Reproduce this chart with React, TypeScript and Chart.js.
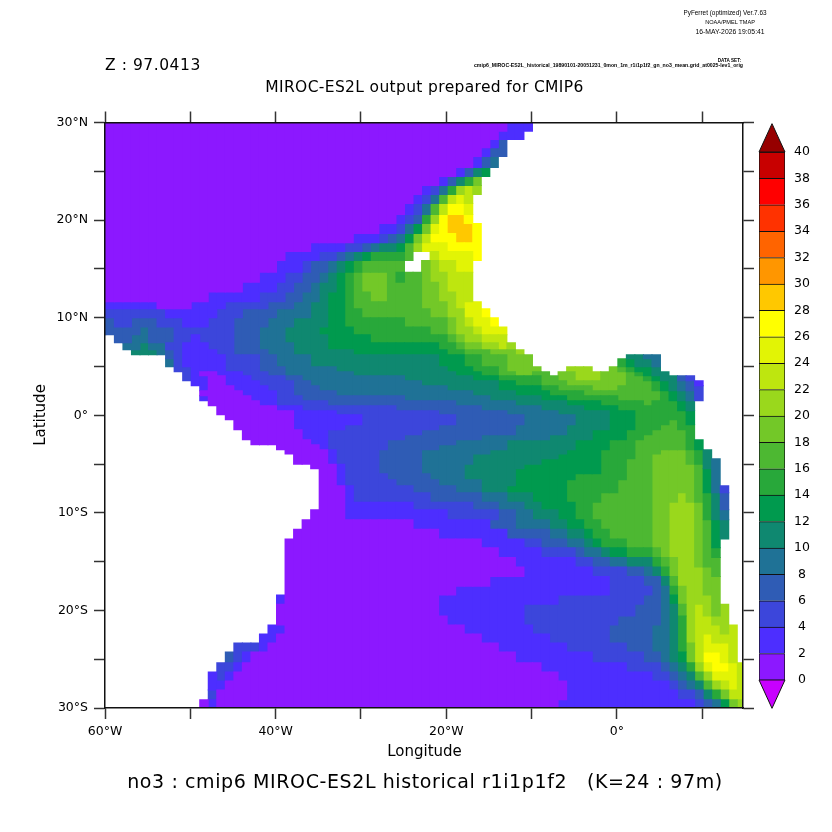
import React, { useEffect, useRef } from "react";
import { Chart, registerables } from "chart.js";

Chart.register(...registerables);

// ---------- data ----------
// Latitude edges of the model rows (north to south); rows get narrow near the equator.
const latEdges = [
  30, 29.11, 28.26, 27.4, 26.51, 25.38, 24.46, 23.54, 22.62, 21.69, 20.56, 19.64, 18.62, 17.69, 16.77, 15.85, 14.65,
  13.62, 12.63, 11.64, 10.92, 10.0,
  9.04, 8.26, 7.44, 6.72, 6.21, 5.79, 4.97, 4.46, 4.05, 3.54, 3.03, 2.51, 2.0, 1.49, 0.97, 0.46, 0.05, -0.46, -0.97,
  -1.49, -2.0, -2.51, -3.03, -3.54, -3.98, -4.46, -5.01, -5.49, -6.0, -6.62, -7.23, -7.95, -8.91, -9.69,
  -10.72, -11.68, -12.67, -13.59, -14.58, -15.54, -16.53, -17.52, -18.41, -19.37, -20.56, -21.49, -22.41, -23.33,
  -24.26, -25.36, -26.31, -27.23, -28.15, -29.15, -30,
];
const firstLonEdge = -59.9;
const columnCount = 75;

// Each row: "firstColumn:level" runs, level k means 2k..2k+2 of no3, "." is land.
const rowRuns = [
  "0:0 47:1 50:.",
  "0:0 46:1 49:.",
  "0:0 45:1 46:3 47:.",
  "0:0 44:1 45:3 47:.",
  "0:0 43:1 44:3 45:4 46:.",
  "0:0 41:1 42:3 43:5 44:6 45:.",
  "0:0 39:1 40:3 41:5 42:7 43:9 44:.",
  "0:0 37:1 38:2 39:4 40:7 41:10 42:11 43:10 44:.",
  "0:0 36:1 37:2 38:4 39:8 40:11 41:12 42:11 43:.",
  "0:0 35:1 36:2 37:4 38:8 39:11 40:13 42:12 43:.",
  "0:0 34:1 35:2 36:3 37:7 38:10 39:13 40:14 42:13 43:.",
  "0:0 32:1 34:2 35:4 36:6 37:9 38:12 39:13 40:14 43:13 44:.",
  "0:0 29:1 32:2 33:3 34:4 35:6 36:9 37:11 38:13 41:14 43:13 44:.",
  "0:0 24:1 28:2 30:3 31:4 32:5 34:6 35:8 36:10 37:12 40:13 44:.",
  "0:0 21:1 25:2 27:3 28:4 29:5 30:6 31:7 35:8 36:. 38:11 39:12 43:13 44:.",
  "0:0 20:1 23:2 24:3 26:4 27:5 28:6 29:7 30:8 35:. 37:9 38:10 39:11 41:12 43:.",
  "0:0 18:1 21:2 23:3 25:4 26:5 27:6 28:7 29:8 30:9 33:8 34:7 35:8 37:9 38:10 40:11 43:.",
  "0:0 16:1 20:2 22:3 24:4 25:5 27:6 28:7 29:8 30:9 33:8 37:9 39:10 40:11 43:.",
  "0:0 12:1 18:2 21:3 23:4 25:5 26:6 28:7 29:8 31:9 33:8 37:9 39:10 41:11 43:.",
  "0:1 6:0 10:1 14:2 19:3 22:4 24:5 26:6 28:7 29:8 37:9 40:10 41:11 42:12 44:.",
  "0:2 7:1 13:2 16:3 20:4 24:5 26:6 28:7 30:8 38:9 40:10 42:12 44:13 45:.",
  "0:3 1:2 3:3 6:2 9:1 12:2 15:3 19:4 22:5 26:6 28:7 35:8 40:9 41:10 42:11 43:12 45:13 46:.",
  "0:3 4:4 5:3 8:2 15:3 18:4 21:5 25:6 29:7 38:8 40:9 41:10 43:11 44:12 47:.",
  "0:. 1:3 3:4 5:3 8:2 10:1 11:2 15:3 18:4 21:5 26:6 31:7 40:8 41:9 42:10 44:11 47:.",
  "0:. 2:4 4:5 5:4 7:2 9:1 12:2 15:3 18:4 22:5 26:6 39:7 41:8 42:9 44:10 46:11 47:10 48:.",
  "0:. 3:5 6:4 7:3 8:2 9:1 13:2 15:3 19:4 22:5 29:6 40:7 42:8 45:9 48:10 49:.",
  "0:. 7:3 8:2 9:1 14:2 18:3 20:4 24:5 39:6 42:7 44:8 47:9 50:. 61:5 63:4 65:.",
  "0:. 7:4 8:2 9:1 14:2 18:3 20:4 24:5 39:6 42:7 44:8 47:9 50:. 60:7 61:6 62:5 64:4 65:.",
  "0:. 8:2 10:1 14:2 18:3 21:4 27:5 40:6 43:7 46:8 47:9 51:. 54:10 57:. 59:9 60:8 61:7 62:6 64:5 65:.",
  "0:. 9:2 10:1 11:0 13:1 16:2 19:3 21:4 29:5 41:6 44:7 46:8 48:9 50:8 52:. 53:9 55:10 58:9 61:8 62:7 63:6 64:5 66:.",
  "0:. 9:2 10:1 12:0 14:1 17:2 21:3 23:4 35:5 43:6 46:7 51:8 53:9 55:10 58:9 61:8 63:7 64:6 65:5 67:3 68:2 69:.",
  "0:. 10:1 12:0 14:1 18:2 22:3 24:4 37:5 46:6 48:7 51:8 54:9 61:8 64:7 65:6 66:5 67:4 68:3 69:1 70:.",
  "0:. 11:1 12:0 15:1 19:2 22:3 25:4 40:5 46:6 51:7 53:8 57:9 60:8 64:7 65:6 66:5 67:4 68:3 69:2 70:.",
  "0:. 11:0 16:1 20:2 22:3 27:4 43:5 48:6 52:7 56:8 65:7 66:6 67:5 68:4 69:2 70:.",
  "0:. 11:1 12:0 17:1 20:2 23:3 35:4 45:5 51:6 54:7 60:8 65:7 66:6 67:5 68:4 69:2 70:.",
  "0:. 12:0 18:1 20:2 26:3 41:4 48:5 54:6 58:7 63:8 64:7 67:6 68:5 69:.",
  "0:. 13:0 20:1 23:2 34:3 44:4 51:5 56:6 60:7 67:6 68:5 69:.",
  "0:. 13:0 22:1 27:2 39:3 47:4 53:5 59:6 62:7 68:6 69:.",
  "0:. 14:0 22:1 30:2 41:3 49:4 55:5 59:6 62:7 68:6 69:.",
  "0:. 15:0 22:1 30:2 41:3 49:4 55:5 59:6 62:7 66:8 67:7 68:6 69:.",
  "0:. 15:0 22:1 28:2 39:3 48:4 54:5 59:6 62:7 65:8 67:7 69:.",
  "0:. 16:0 23:1 26:2 37:3 48:4 54:5 57:6 61:7 64:8 68:7 69:.",
  "0:. 16:0 23:1 26:2 35:3 44:4 52:5 57:6 61:7 63:8 68:7 69:.",
  "0:. 17:0 24:1 26:2 33:3 41:4 47:5 55:6 59:7 62:8 68:7 69:6 70:.",
  "0:. 20:0 25:1 26:2 33:3 39:4 47:5 55:6 59:7 62:8 68:7 69:6 70:.",
  "0:. 21:0 26:1 27:2 32:3 37:4 45:5 54:6 58:7 62:8 65:9 68:8 69:7 70:5 71:.",
  "0:. 22:0 26:1 27:2 32:3 37:4 43:5 53:6 58:7 62:8 64:9 68:8 69:7 70:5 71:.",
  "0:. 22:0 26:1 27:2 32:3 37:4 43:5 51:6 58:7 61:8 64:9 68:8 69:7 70:5 71:4 72:.",
  "0:. 24:0 27:1 28:2 32:3 37:4 42:5 49:6 58:7 61:8 64:9 69:8 70:5 71:4 72:.",
  "0:. 25:0 27:1 28:2 32:3 37:4 42:5 48:6 58:7 61:8 64:9 69:8 70:6 71:4 72:.",
  "0:. 25:0 27:1 28:2 33:3 38:4 42:5 48:6 55:7 61:8 64:9 69:8 70:6 71:4 72:.",
  "0:. 25:0 27:1 28:2 34:3 39:4 44:5 48:6 54:7 60:8 64:9 69:8 70:6 71:4 72:.",
  "0:. 25:0 28:1 29:2 36:3 41:4 44:5 47:6 54:7 60:8 64:9 69:8 70:6 71:4 72:2 73:.",
  "0:. 25:0 28:1 29:2 38:3 44:4 47:5 50:6 54:7 58:8 64:9 67:10 68:9 69:8 70:7 71:5 72:3 73:.",
  "0:. 25:0 28:1 36:2 43:3 46:4 49:5 51:6 55:7 57:8 64:9 66:10 69:9 70:7 71:5 72:3 73:.",
  "0:. 24:0 28:1 40:2 46:3 48:4 50:5 53:6 55:7 57:8 64:9 66:10 69:9 70:7 71:5 72:4 73:.",
  "0:. 23:0 36:1 45:3 48:4 52:5 54:6 56:7 58:8 64:9 66:10 69:9 70:8 71:6 72:5 73:.",
  "0:. 22:0 39:1 47:3 52:4 54:5 56:6 57:7 59:8 64:9 66:10 69:9 70:8 71:6 72:5 73:.",
  "0:. 21:0 44:1 49:2 51:3 54:4 56:5 57:6 58:7 61:8 64:9 66:10 69:9 70:8 71:6 72:.",
  "0:. 21:0 46:1 51:2 55:3 56:4 58:5 59:6 61:7 64:8 65:9 66:10 69:9 70:8 71:7 72:.",
  "0:. 21:0 48:1 55:2 57:3 59:4 61:5 64:7 65:8 66:9 67:10 69:9 70:8 72:.",
  "0:. 21:0 49:1 57:2 61:3 63:4 64:5 65:7 66:9 67:10 70:9 71:8 72:.",
  "0:. 21:0 45:1 59:2 63:3 65:5 66:8 67:10 70:9 72:.",
  "0:. 21:0 41:1 59:2 64:3 65:4 66:7 67:9 68:10 70:9 72:.",
  "0:. 20:1 21:0 39:1 53:2 63:3 65:4 66:6 67:9 68:10 71:9 72:.",
  "0:. 20:0 39:1 49:2 62:3 65:4 66:5 67:8 68:10 69:11 70:10 71:9 72:10 73:.",
  "0:. 20:0 40:1 49:2 60:3 65:4 66:5 67:7 68:10 69:11 71:10 73:.",
  "0:. 19:1 21:0 42:1 50:2 59:3 64:4 66:5 67:7 68:10 69:11 72:10 73:11 74:.",
  "0:. 18:1 20:0 44:1 52:2 59:3 64:4 66:5 67:7 68:10 69:11 70:12 71:11 74:.",
  "0:. 15:2 18:1 19:0 46:1 54:2 61:3 64:4 66:5 67:7 68:9 69:11 70:12 73:11 74:.",
  "0:. 14:3 15:2 16:1 17:0 48:1 57:2 63:3 65:4 66:5 67:6 68:9 69:11 70:13 72:12 73:11 74:.",
  "0:. 13:2 15:1 16:0 51:1 61:2 65:3 66:4 67:5 68:7 69:10 70:12 71:13 73:12 74:11",
  "0:. 12:1 13:2 14:1 15:0 53:1 64:2 66:3 67:4 68:5 69:8 70:10 71:12 74:11",
  "0:. 12:1 14:0 54:1 66:2 67:3 68:4 69:5 70:8 71:10 72:11 73:12 74:11",
  "0:. 12:2 13:0 54:1 67:2 69:3 70:5 71:7 72:9 73:11",
  "0:. 11:0 12:1 13:0 53:1 69:2 70:3 71:4 72:6 73:9 74:10",
];

const lonTickLabels: Record<number, string> = { [-60]: "60°W", [-40]: "40°W", [-20]: "20°W", 0: "0°" };
const latTickLabels: Record<number, string> = {
  30: "30°N", 20: "20°N", 10: "10°N", 0: "0°", [-10]: "10°S", [-20]: "20°S", [-30]: "30°S",
};
const colorbarEdges = [0, 2, 4, 6, 8, 10, 12, 14, 16, 18, 20, 22, 24, 26, 28, 30, 32, 34, 36, 38, 40];

const headerLines = ["PyFerret (optimized) Ver.7.63", "NOAA/PMEL TMAP", "16-MAY-2026 19:05:41"];
const dataSetLabel = "DATA SET:";
const dataSetName = "cmip6_MIROC-ES2L_historical_19890101-20051231_0mon_1m_r1i1p1f2_gn_no3_mean.grid_at0025-lev1_orig";
const depthLabel = "Z : 97.0413";
const titleText = "MIROC-ES2L output prepared for CMIP6";
const xAxisName = "Longitude";
const yAxisName = "Latitude";
const footerText = "no3 : cmip6 MIROC-ES2L historical r1i1p1f2   (K=24 : 97m)";

// ---------- style ----------
const levelColors = [
  "#8c18ff", "#4d2eff", "#3c46db", "#2f5cb5", "#1f7296", "#0f8870", "#009a4e", "#28a83a", "#4db832", "#73c828",
  "#9ad81c", "#bee60f", "#e2f405", "#ffff00", "#ffc800", "#ff9600", "#ff6400", "#ff3200", "#ff0000", "#c80000",
];
const overColor = "#960000";
const underColor = "#c800ff";
const sans = '"DejaVu Sans", sans-serif';
const thin = '"Liberation Sans", sans-serif';

// ---------- build the bars ----------
function expandRow(row: string): (number | null)[] {
  const runs = row.split(" ").map((r) => r.split(":"));
  const out: (number | null)[] = [];
  runs.forEach(([start, level], k) => {
    const end = k + 1 < runs.length ? Number(runs[k + 1][0]) : columnCount;
    for (let c = Number(start); c < end; c++) out.push(level === "." ? null : Number(level));
  });
  return out;
}

function buildCellDatasets() {
  const grid = rowRuns.map(expandRow);
  const perLevel: { x: number; y: [number, number] }[][] = levelColors.map(() => []);
  // column -1 repeats column 0 to fill the sliver up to the 60W frame
  for (let col = -1; col < columnCount; col++) {
    const c = Math.max(col, 0);
    const x = firstLonEdge + col + 0.5;
    let r = 0;
    while (r < grid.length) {
      const level = grid[r][c];
      let end = r + 1;
      while (end < grid.length && grid[end][c] === level) end++;
      if (level !== null) perLevel[level].push({ x, y: [latEdges[end], latEdges[r]] });
      r = end;
    }
  }
  return perLevel.map((data, i) => ({
    label: `${colorbarEdges[i]}-${colorbarEdges[i + 1]}`,
    data,
    backgroundColor: levelColors[i],
    borderWidth: 0,
    inflateAmount: 0.5,
    barPercentage: 1,
    categoryPercentage: 1,
  }));
}

function text(
  ctx: CanvasRenderingContext2D,
  s: string,
  x: number,
  y: number,
  font: string,
  align: CanvasTextAlign = "left",
  spacing = 0,
) {
  ctx.font = font;
  ctx.textAlign = align;
  ctx.textBaseline = "middle";
  ctx.fillStyle = "#000";
  (ctx as any).letterSpacing = `${spacing}px`;
  ctx.fillText(s, x, y);
  (ctx as any).letterSpacing = "0px";
}

const annotations = {
  id: "annotations",
  afterDraw(chart: Chart) {
    const ctx = chart.ctx;
    ctx.save();
    text(ctx, headerLines[0], 725, 13, `6.4px ${thin}`, "center");
    text(ctx, headerLines[1], 730, 22.5, `5.6px ${thin}`, "center");
    text(ctx, headerLines[2], 730, 32, `6.8px ${thin}`, "center");
    text(ctx, dataSetLabel, 741, 61, `bold 4.6px ${thin}`, "right");
    text(ctx, dataSetName, 743, 65.5, `bold 5.2px ${thin}`, "right");
    text(ctx, depthLabel, 105, 65.5, `15.5px ${sans}`, "left", 0.55);
    text(ctx, titleText, 424.5, 88, `15.5px ${sans}`, "center", 0.35);
    text(ctx, xAxisName, 424.5, 752, `15px ${sans}`, "center");
    text(ctx, footerText, 425, 783, `19px ${sans}`, "center", 0.6);
    ctx.translate(41, 415);
    ctx.rotate(-Math.PI / 2);
    text(ctx, yAxisName, 0, 0, `15px ${sans}`, "center");
    ctx.restore();
  },
};

const triangles = {
  id: "triangles",
  afterDatasetsDraw(chart: Chart) {
    const { ctx, chartArea } = chart;
    const y = chart.scales.y;
    const mid = (chartArea.left + chartArea.right) / 2;
    const tri = (base: number, apex: number, fill: string) => {
      ctx.beginPath();
      ctx.moveTo(chartArea.left, y.getPixelForValue(base));
      ctx.lineTo(mid, y.getPixelForValue(apex));
      ctx.lineTo(chartArea.right, y.getPixelForValue(base));
      ctx.closePath();
      ctx.fillStyle = fill;
      ctx.fill();
      ctx.lineWidth = 1;
      ctx.strokeStyle = "#111";
      ctx.stroke();
    };
    ctx.save();
    tri(40, 42.15, overColor);
    tri(0, -2.15, underColor);
    ctx.restore();
  },
};

const lonRange = { min: -60, max: 14.77 };
const axisLine = { display: true, color: "#111", width: 1.5, z: 1 };
const gridStyle = {
  drawOnChartArea: false,
  tickLength: 11,
  tickColor: "#333",
  tickWidth: 1.5,
  offset: false,
};
const tickFont = { family: "DejaVu Sans", size: 12.5 };

export default function App() {
  const mapRef = useRef<HTMLCanvasElement>(null);
  const barRef = useRef<HTMLCanvasElement>(null);

  useEffect(() => {
    const fix = (prop: "width" | "height", v: number) => (s: any) => {
      s[prop] = v;
    };
    const map = new Chart(mapRef.current!, {
      type: "bar",
      data: { datasets: buildCellDatasets() as any },
      plugins: [annotations],
      options: {
        animation: false,
        responsive: false,
        devicePixelRatio: 1,
        events: [],
        layout: { padding: 0 },
        plugins: { legend: { display: false }, tooltip: { enabled: false }, title: { display: false } },
        scales: {
          x: {
            type: "linear",
            stacked: true,
            offset: false,
            ...lonRange,
            position: "bottom",
            border: axisLine,
            grid: gridStyle,
            afterFit: fix("height", 124),
            ticks: {
              stepSize: 10,
              includeBounds: false,
              autoSkip: false,
              maxRotation: 0,
              padding: 5,
              color: "#000",
              font: tickFont,
              callback: (v: any) => lonTickLabels[v] ?? "",
            },
          },
          x2: {
            type: "linear",
            axis: "x",
            offset: false,
            ...lonRange,
            position: "top",
            border: axisLine,
            grid: gridStyle,
            afterFit: fix("height", 122.5),
            ticks: { stepSize: 10, includeBounds: false, autoSkip: false, callback: () => "" },
          },
          y: {
            type: "linear",
            min: -30,
            max: 30,
            stacked: false,
            position: "left",
            border: axisLine,
            grid: gridStyle,
            afterFit: fix("width", 105),
            ticks: {
              stepSize: 5,
              autoSkip: false,
              padding: 6,
              color: "#000",
              font: tickFont,
              callback: (v: any) => latTickLabels[v] ?? "",
            },
          },
          y2: {
            type: "linear",
            axis: "y",
            min: -30,
            max: 30,
            position: "right",
            border: axisLine,
            grid: gridStyle,
            afterFit: fix("width", 89),
            ticks: { stepSize: 5, autoSkip: false, callback: () => "" },
          },
        } as any,
      },
    });

    const bar = new Chart(barRef.current!, {
      type: "bar",
      data: {
        labels: ["no3"],
        datasets: levelColors.map((c, i) => ({
          label: `${colorbarEdges[i]}-${colorbarEdges[i + 1]}`,
          data: [[colorbarEdges[i], colorbarEdges[i + 1]]],
          backgroundColor: c,
          borderColor: "#111",
          borderWidth: 1,
          barPercentage: 1,
          categoryPercentage: 1,
        })) as any,
      },
      plugins: [triangles],
      options: {
        animation: false,
        responsive: false,
        devicePixelRatio: 1,
        events: [],
        layout: { padding: { left: 9, top: 13, bottom: 11, right: 0 } },
        plugins: { legend: { display: false }, tooltip: { enabled: false } },
        scales: {
          x: { display: false, stacked: true },
          y: {
            type: "linear",
            position: "right",
            min: -2.2,
            max: 42.2,
            stacked: false,
            border: { display: false },
            grid: { display: false, drawTicks: false },
            afterFit: (s: any) => {
              s.width = 47;
              s.paddingTop = 0;
              s.paddingBottom = 0;
            },
            ticks: {
              stepSize: 2,
              includeBounds: false,
              autoSkip: false,
              padding: 9,
              crossAlign: "center",
              color: "#000",
              font: tickFont,
              callback: (v: any) => (v >= 0 && v <= 40 ? String(v) : ""),
            },
          },
        } as any,
      },
    });

    return () => {
      map.destroy();
      bar.destroy();
    };
  }, []);

  return (
    <div style={{ position: "absolute", left: 0, top: 0, width: 832, height: 832, background: "#fff" }}>
      <canvas ref={mapRef} width={832} height={832} style={{ position: "absolute", left: 0, top: 0, display: "block" }} />
      <canvas ref={barRef} width={82} height={610} style={{ position: "absolute", left: 750, top: 110, display: "block" }} />
    </div>
  );
}
